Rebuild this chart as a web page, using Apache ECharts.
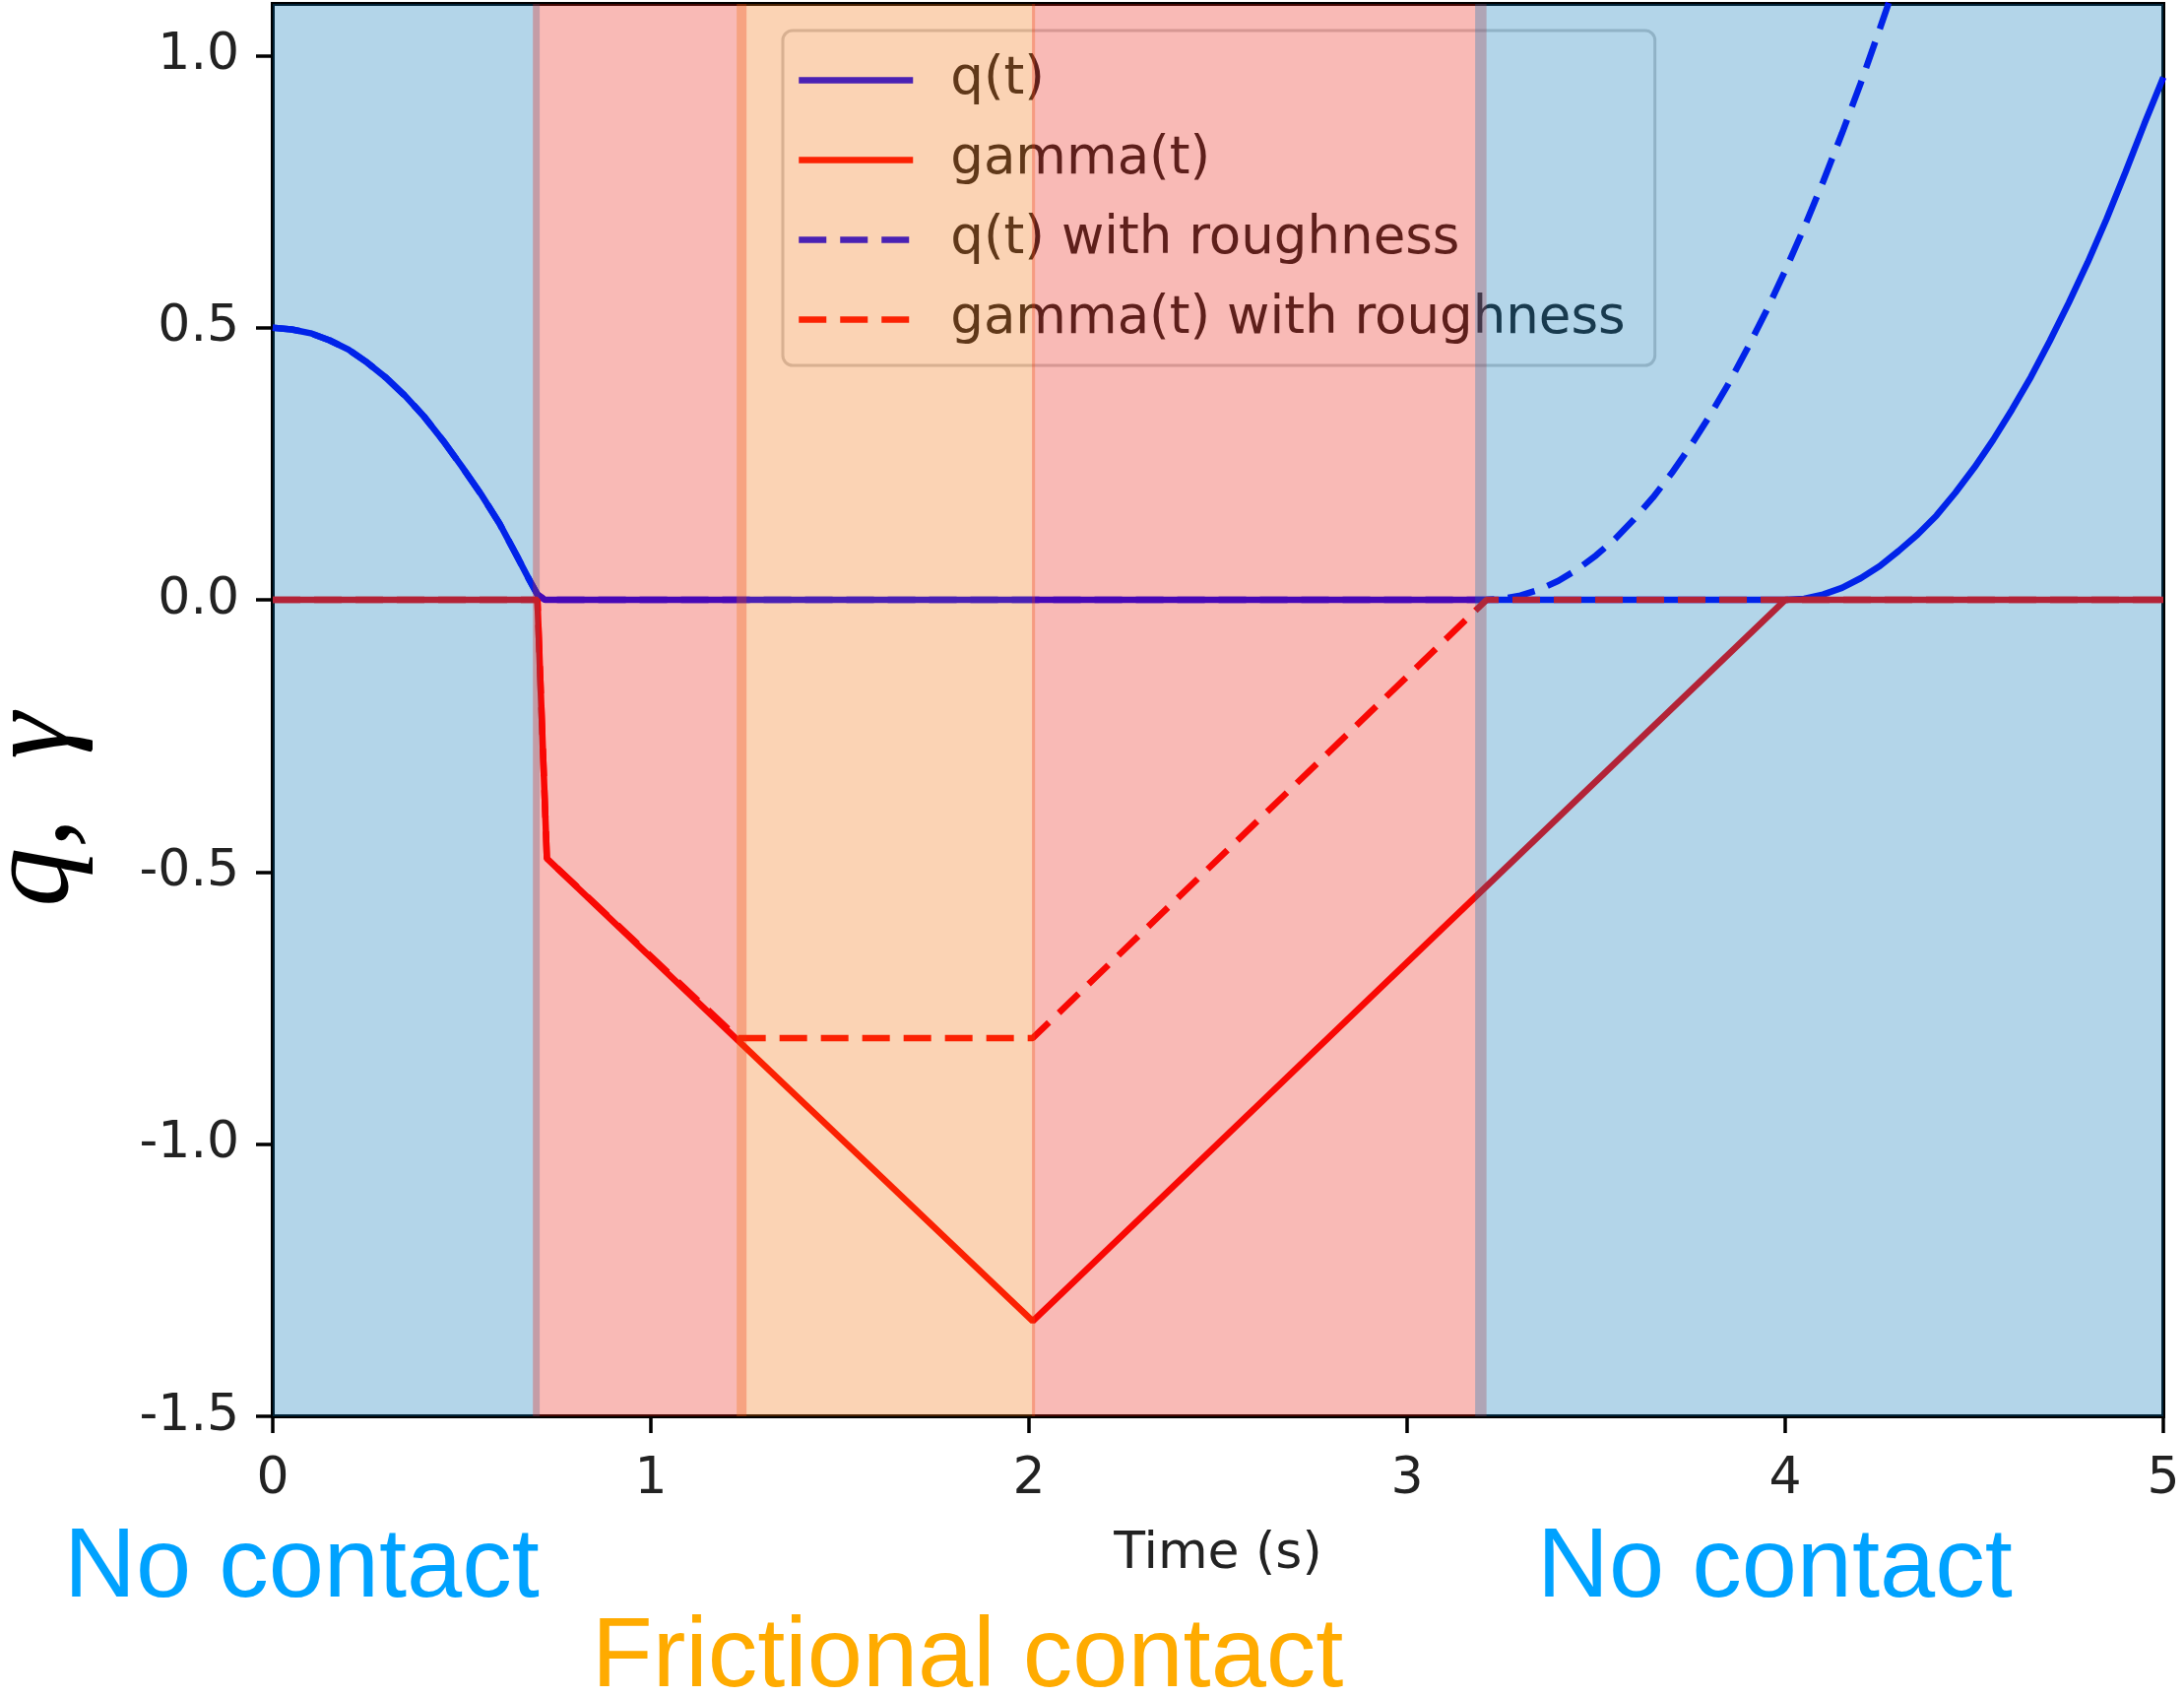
<!DOCTYPE html>
<html>
<head>
<meta charset="utf-8">
<script src="https://cdn.jsdelivr.net/npm/echarts@6/dist/echarts.min.js"></script>
<style>
html,body{margin:0;padding:0;background:#ffffff;}
#chart{width:2218px;height:1723px;}
</style>
</head>
<body>
<div id="chart"></div>
<script>
// ---------------- data ----------------
const seriesNames = ['q(t)', 'gamma(t)', 'q(t) with roughness', 'gamma(t) with roughness'];

const qSolid = [
  [0, 0.5], [0.05, 0.497], [0.1, 0.49], [0.15, 0.477], [0.2, 0.46], [0.25, 0.436],
  [0.3, 0.408], [0.35, 0.375], [0.4, 0.337], [0.45, 0.293], [0.5, 0.245],
  [0.55, 0.195], [0.6, 0.14], [0.65, 0.075], [0.68, 0.035], [0.7, 0.01], [0.72, 0],
  [4.0, 0], [4.05, 0.002], [4.1, 0.01], [4.15, 0.022], [4.2, 0.04], [4.25, 0.062],
  [4.3, 0.09], [4.35, 0.12], [4.4, 0.155], [4.45, 0.197], [4.5, 0.243], [4.55, 0.294],
  [4.6, 0.35], [4.65, 0.41], [4.7, 0.476], [4.75, 0.546], [4.8, 0.62], [4.85, 0.70],
  [4.9, 0.786], [4.95, 0.875], [5.0, 0.96]
];
const gammaSolid = [
  [0, 0], [0.70, 0], [0.725, -0.475], [2.01, -1.325], [4.0, 0], [5.0, 0]
];
const qRough = [
  [0, 0.5], [0.05, 0.497], [0.1, 0.49], [0.15, 0.477], [0.2, 0.46], [0.25, 0.436],
  [0.3, 0.408], [0.35, 0.375], [0.4, 0.337], [0.45, 0.293], [0.5, 0.245],
  [0.55, 0.195], [0.6, 0.14], [0.65, 0.075], [0.68, 0.035], [0.7, 0.01], [0.72, 0],
  [3.21, 0], [3.25, 0.002], [3.3, 0.008], [3.35, 0.019], [3.4, 0.035], [3.45, 0.056],
  [3.5, 0.082], [3.55, 0.112], [3.6, 0.148], [3.65, 0.188], [3.7, 0.233], [3.75, 0.283],
  [3.8, 0.338], [3.85, 0.397], [3.9, 0.462], [3.95, 0.531], [4.0, 0.605], [4.05, 0.684],
  [4.1, 0.768], [4.15, 0.857], [4.2, 0.95], [4.25, 1.049], [4.3, 1.15]
];
const gammaRough = [
  [0, 0], [0.70, 0], [0.725, -0.475], [1.23, -0.805], [2.01, -0.805], [3.21, 0], [5.0, 0]
];

// shaded phases (x extents, seconds)
const spanStart = [0, 0.688, 1.227, 2.008, 3.18];
const spanEnd   = [0.706, 1.253, 2.016, 3.21, 5];
const spanKind  = ['free', 'contact', 'friction', 'contact', 'free'];

const xTicks = [0, 1, 2, 3, 4, 5];
const yTicks = [-1.5, -1.0, -0.5, 0.0, 0.5, 1.0];
const phaseLabels = ['No contact', 'Frictional contact', 'No contact'];

// ---------------- styling ----------------
const kindColor = {
  free: 'rgba(2,115,182,0.3)',
  contact: 'rgba(235,28,12,0.3)',
  friction: 'rgba(242,108,5,0.3)'
};
const dash = [28, 14];
const lw = 6.5;
const sansFont = 'DejaVu Sans';

const chart = echarts.init(document.getElementById('chart'), null, {renderer: 'canvas'});

const option = {
  animation: false,
  backgroundColor: '#ffffff',
  grid: {
    left: 277, top: 4, width: 1920, height: 1434,
    show: true, borderColor: '#000000', borderWidth: 4, backgroundColor: 'transparent'
  },
  xAxis: {
    type: 'value', min: 0, max: 5, interval: 1,
    name: 'Time (s)', nameLocation: 'middle', nameGap: 114,
    nameTextStyle: {fontFamily: sansFont, fontSize: 52, color: '#222222'},
    axisLine: {show: false, onZero: false},
    axisTick: {show: true, inside: false, length: 17, lineStyle: {color: '#000000', width: 3.5}, customValues: xTicks},
    axisLabel: {show: true, margin: 38, fontFamily: sansFont, fontSize: 52, color: '#222222',
                customValues: xTicks, formatter: v => String(v)},
    splitLine: {show: false}
  },
  yAxis: {
    type: 'value', min: -1.5, max: 1.095, interval: 0.5,
    axisLine: {show: false, onZero: false},
    axisTick: {show: true, inside: false, length: 17, lineStyle: {color: '#000000', width: 3.5}, customValues: yTicks},
    axisLabel: {show: true, margin: 34, fontFamily: sansFont, fontSize: 52, color: '#222222',
                customValues: yTicks, formatter: v => Number(v).toFixed(1)},
    splitLine: {show: false}
  },
  legend: {
    data: seriesNames,
    orient: 'vertical',
    left: 795, top: 31,
    z: 3,
    padding: [20, 30, 16, 13],
    itemGap: 20,
    itemWidth: 116,
    itemHeight: 2,
    backgroundColor: 'rgba(255,255,255,0.8)',
    borderColor: 'rgba(200,200,200,0.9)',
    borderWidth: 3,
    borderRadius: 10,
    selectedMode: false,
    itemStyle: {opacity: 0},
    lineStyle: {width: lw},
    textStyle: {fontFamily: sansFont, fontSize: 53, lineHeight: 61, color: '#222222', padding: [0, 0, 0, 33]}
  },
  series: [
    {
      name: seriesNames[0], type: 'line', data: qSolid, z: 2,
      symbol: 'none', showSymbol: false, clip: true,
      lineStyle: {color: '#0000ff', width: lw}, itemStyle: {color: '#0000ff'}
    },
    {
      name: seriesNames[1], type: 'line', data: gammaSolid, z: 2,
      symbol: 'none', showSymbol: false, clip: true,
      lineStyle: {color: '#ff0000', width: lw}, itemStyle: {color: '#ff0000'}
    },
    {
      name: seriesNames[2], type: 'line', data: qRough, z: 2,
      symbol: 'none', showSymbol: false, clip: true,
      lineStyle: {color: '#0000ff', width: lw, type: dash}, itemStyle: {color: '#0000ff'}
    },
    {
      name: seriesNames[3], type: 'line', data: gammaRough, z: 2,
      symbol: 'none', showSymbol: false, clip: true,
      lineStyle: {color: '#ff0000', width: lw, type: dash}, itemStyle: {color: '#ff0000'}
    },
    {
      name: 'phases', type: 'custom', z: 10, silent: true,
      data: spanStart.map((s, i) => [s, spanEnd[i]]),
      encode: {x: [0, 1]},
      renderItem: function (params, api) {
        const cs = params.coordSys;
        const a = api.coord([api.value(0), 0])[0];
        const b = api.coord([api.value(1), 0])[0];
        const l = Math.max(a, cs.x);
        const r = Math.min(b, cs.x + cs.width);
        return {
          type: 'rect',
          shape: {x: l, y: cs.y, width: r - l, height: cs.height},
          style: {fill: kindColor[spanKind[params.dataIndex]]}
        };
      }
    }
  ],
  graphic: [
    {
      type: 'text', x: 36, y: 822, rotation: Math.PI / 2, z: 20,
      style: {text: 'q,  γ', fontFamily: 'Liberation Serif', fontStyle: 'italic', fontSize: 120,
              fill: '#000000', align: 'center', verticalAlign: 'middle'}
    },
    {
      type: 'text', x: 65, y: 1593, z: 20,
      style: {text: phaseLabels[0], fontFamily: 'Liberation Sans', fontSize: 101,
              fill: '#00a2ff', align: 'left', verticalAlign: 'middle'}
    },
    {
      type: 'text', x: 601, y: 1684, z: 20,
      style: {text: phaseLabels[1], fontFamily: 'Liberation Sans', fontSize: 101,
              fill: '#ffab00', align: 'left', verticalAlign: 'middle'}
    },
    {
      type: 'text', x: 1561, y: 1593, z: 20,
      style: {text: phaseLabels[2], fontFamily: 'Liberation Sans', fontSize: 101,
              fill: '#00a2ff', align: 'left', verticalAlign: 'middle'}
    }
  ]
};

chart.setOption(option);
</script>
</body>
</html>
